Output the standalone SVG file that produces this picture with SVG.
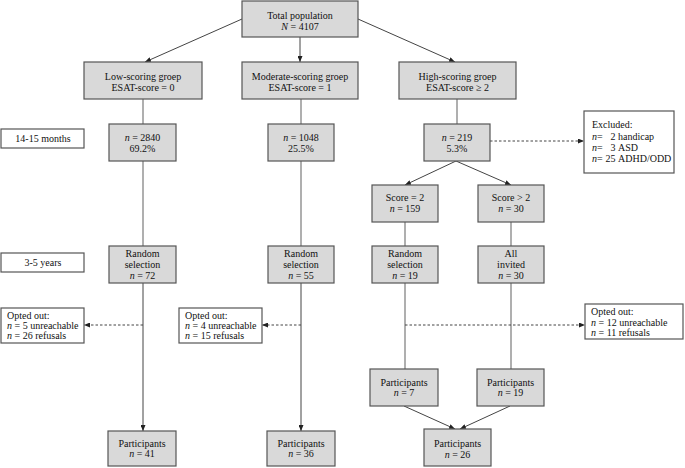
<svg xmlns="http://www.w3.org/2000/svg" width="685" height="468" viewBox="0 0 685 468" font-family="'Liberation Serif', 'Times New Roman', 'DejaVu Serif', serif">
<defs>
<style>
.g{fill:#d9d9d9;stroke:#555;stroke-width:1.2}
.w{fill:#fff;stroke:#555;stroke-width:1.2}
text{font-family:'Liberation Serif','Times New Roman','DejaVu Serif',serif;font-size:10px;fill:#111}
.c{text-anchor:middle}
.e{text-anchor:end}
.i{font-style:italic}
.ln{stroke:#7a7a7a;stroke-width:1.2;fill:none}
.ar{stroke:#444;stroke-width:1;fill:none}
.da{stroke:#444;stroke-width:1;fill:none;stroke-dasharray:2.5,2}
</style>
<marker id="ah" markerUnits="userSpaceOnUse" markerWidth="6" markerHeight="5" refX="6" refY="2.5" orient="auto">
<path d="M0,0 L6,2.5 L0,5 z" fill="#222"/>
</marker>
</defs>
<g id="connectors">
<line class="ar" x1="242" y1="19" x2="145" y2="62" marker-end="url(#ah)"/>
<line class="ar" x1="300" y1="37" x2="300" y2="62" marker-end="url(#ah)"/>
<line class="ar" x1="358" y1="19" x2="455" y2="62" marker-end="url(#ah)"/>
<line class="ln" x1="143" y1="99" x2="143" y2="124"/>
<line class="ln" x1="301" y1="99" x2="301" y2="124"/>
<line class="ln" x1="457" y1="99" x2="457" y2="124"/>
<line class="ln" x1="143" y1="161" x2="143" y2="246"/>
<line class="ln" x1="301" y1="161" x2="301" y2="246"/>
<line class="da" x1="490" y1="141" x2="584" y2="141" marker-end="url(#ah)"/>
<line class="ar" x1="456" y1="161" x2="405" y2="185" marker-end="url(#ah)"/>
<line class="ar" x1="456" y1="161" x2="511" y2="185" marker-end="url(#ah)"/>
<line class="ln" x1="405" y1="222" x2="405" y2="246"/>
<line class="ln" x1="511" y1="222" x2="511" y2="246"/>
<line class="ar" x1="143" y1="283" x2="143" y2="431" marker-end="url(#ah)"/>
<line class="ar" x1="301" y1="283" x2="301" y2="431" marker-end="url(#ah)"/>
<line class="ln" x1="405" y1="283" x2="405" y2="369"/>
<line class="ln" x1="511" y1="283" x2="511" y2="369"/>
<line class="ar" x1="404" y1="406" x2="455" y2="429" marker-end="url(#ah)"/>
<line class="ar" x1="510" y1="406" x2="460" y2="429" marker-end="url(#ah)"/>
<line class="da" x1="143" y1="325" x2="84" y2="325" marker-end="url(#ah)"/>
<line class="da" x1="301" y1="325" x2="262" y2="325" marker-end="url(#ah)"/>
<line class="da" x1="405" y1="325" x2="585" y2="325" marker-end="url(#ah)"/>
</g>
<g id="total">
<rect class="g" x="242" y="1" width="116" height="36"/>
<text class="c" x="300" y="18.5">Total population</text>
<text class="c" x="300" y="29.5"><tspan class="i">N</tspan> = 4107</text>
</g>
<g id="low">
<rect class="g" x="84" y="62" width="118" height="37"/>
<text class="c" x="143" y="79.5">Low-scoring groep</text>
<text class="c" x="143" y="90.5">ESAT-score = 0</text>
</g>
<g id="moderate">
<rect class="g" x="242" y="62" width="116" height="37"/>
<text class="c" x="300" y="79.5">Moderate-scoring groep</text>
<text class="c" x="300" y="90.5">ESAT-score = 1</text>
</g>
<g id="high">
<rect class="g" x="399" y="62" width="117" height="37"/>
<text class="c" x="457.5" y="79.5">High-scoring groep</text>
<text class="c" x="457.5" y="90.5">ESAT-score ≥ 2</text>
</g>
<g id="months">
<rect class="w" x="1" y="129" width="83" height="19"/>
<text class="c" x="43" y="142">14-15 months</text>
</g>
<g id="n2840">
<rect class="g" x="109" y="124" width="67" height="37"/>
<text class="c" x="142.5" y="140.5"><tspan class="i">n</tspan> = 2840</text>
<text class="c" x="142.5" y="151.5">69.2%</text>
</g>
<g id="n1048">
<rect class="g" x="268" y="124" width="66" height="37"/>
<text class="c" x="301" y="140.5"><tspan class="i">n</tspan> = 1048</text>
<text class="c" x="301" y="151.5">25.5%</text>
</g>
<g id="n219">
<rect class="g" x="424" y="124" width="66" height="37"/>
<text class="c" x="457" y="140.5"><tspan class="i">n</tspan> = 219</text>
<text class="c" x="457" y="151.5">5.3%</text>
</g>
<g id="excluded">
<rect class="w" x="584" y="111" width="90" height="62"/>
<text x="592" y="128">Excluded:</text>
<text x="592" y="140"><tspan class="i">n</tspan>=</text>
<text class="e" x="615.5" y="140">2</text>
<text x="618" y="140">handicap</text>
<text x="592" y="151"><tspan class="i">n</tspan>=</text>
<text class="e" x="615.5" y="151">3</text>
<text x="618" y="151">ASD</text>
<text x="592" y="162"><tspan class="i">n</tspan>=</text>
<text class="e" x="615.5" y="162">25</text>
<text x="618" y="162">ADHD/ODD</text>
</g>
<g id="score2">
<rect class="g" x="372" y="185" width="66" height="37"/>
<text class="c" x="405" y="200.5">Score = 2</text>
<text class="c" x="405" y="211.5"><tspan class="i">n</tspan> = 159</text>
</g>
<g id="score3">
<rect class="g" x="478" y="185" width="66" height="37"/>
<text class="c" x="511" y="200.5">Score &gt; 2</text>
<text class="c" x="511" y="211.5"><tspan class="i">n</tspan> = 30</text>
</g>
<g id="years">
<rect class="w" x="1" y="253" width="83" height="19"/>
<text class="c" x="43" y="266">3-5 years</text>
</g>
<g id="random72">
<rect class="g" x="109" y="246" width="67" height="37"/>
<text class="c" x="142.5" y="256.5">Random</text>
<text class="c" x="142.5" y="267.5">selection</text>
<text class="c" x="142.5" y="278.5"><tspan class="i">n</tspan> = 72</text>
</g>
<g id="random55">
<rect class="g" x="268" y="246" width="66" height="37"/>
<text class="c" x="301" y="256.5">Random</text>
<text class="c" x="301" y="267.5">selection</text>
<text class="c" x="301" y="278.5"><tspan class="i">n</tspan> = 55</text>
</g>
<g id="random19">
<rect class="g" x="372" y="246" width="66" height="37"/>
<text class="c" x="405" y="256.5">Random</text>
<text class="c" x="405" y="267.5">selection</text>
<text class="c" x="405" y="278.5"><tspan class="i">n</tspan> = 19</text>
</g>
<g id="invited">
<rect class="g" x="478" y="246" width="66" height="37"/>
<text class="c" x="511" y="256.5">All</text>
<text class="c" x="511" y="267.5">invited</text>
<text class="c" x="511" y="278.5"><tspan class="i">n</tspan> = 30</text>
</g>
<g id="opted1">
<rect class="w" x="1" y="308" width="83" height="35"/>
<text x="7" y="318.5">Opted out:</text>
<text x="7" y="328.5"><tspan class="i">n</tspan> = 5 unreachable</text>
<text x="7" y="338.5"><tspan class="i">n</tspan> = 26 refusals</text>
</g>
<g id="opted2">
<rect class="w" x="179" y="308" width="83" height="35"/>
<text x="185" y="318.5">Opted out:</text>
<text x="185" y="328.5"><tspan class="i">n</tspan> = 4 unreachable</text>
<text x="185" y="338.5"><tspan class="i">n</tspan> = 15 refusals</text>
</g>
<g id="opted3">
<rect class="w" x="585" y="304" width="98" height="35"/>
<text x="591" y="315">Opted out:</text>
<text x="591" y="325.5"><tspan class="i">n</tspan> = 12 unreachable</text>
<text x="591" y="336"><tspan class="i">n</tspan> = 11 refusals</text>
</g>
<g id="part7">
<rect class="g" x="370" y="369" width="68" height="37"/>
<text class="c" x="404" y="385.5">Participants</text>
<text class="c" x="404" y="396"><tspan class="i">n</tspan> = 7</text>
</g>
<g id="part19">
<rect class="g" x="477" y="369" width="67" height="37"/>
<text class="c" x="510.5" y="385.5">Participants</text>
<text class="c" x="510.5" y="396"><tspan class="i">n</tspan> = 19</text>
</g>
<g id="part41">
<rect class="g" x="108" y="431" width="68" height="35"/>
<text class="c" x="142" y="446.5">Participants</text>
<text class="c" x="142" y="456.5"><tspan class="i">n</tspan> = 41</text>
</g>
<g id="part36">
<rect class="g" x="267" y="431" width="68" height="35"/>
<text class="c" x="301" y="446.5">Participants</text>
<text class="c" x="301" y="456.5"><tspan class="i">n</tspan> = 36</text>
</g>
<g id="part26">
<rect class="g" x="424" y="429" width="67" height="37"/>
<text class="c" x="457.5" y="446.5">Participants</text>
<text class="c" x="457.5" y="457.5"><tspan class="i">n</tspan> = 26</text>
</g>
</svg>
